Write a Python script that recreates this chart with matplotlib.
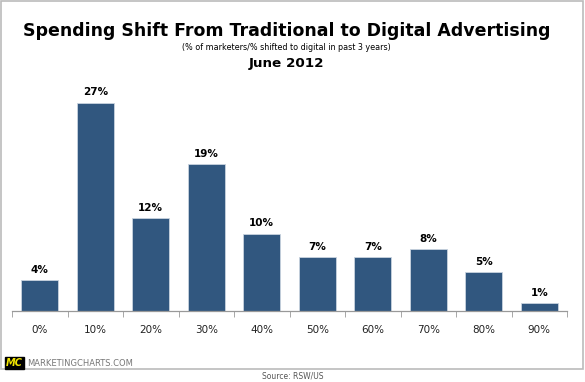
import numpy as np
import matplotlib.pyplot as plt
from matplotlib.patches import Rectangle

cats = ["0%", "10%", "20%", "30%", "40%", "50%", "60%", "70%", "80%", "90%"]
vals = [4, 27, 12, 19, 10, 7, 7, 8, 5, 1]

barcol = "#31577f"

fig = plt.figure(figsize=(5.85, 3.82), dpi=100)
W, H = 585.0, 382.0

# frame round the chart
fig.patches.append(Rectangle((1/W, 1 - 369/H), 582/W, 368/H, transform=fig.transFigure,
                             fill=False, edgecolor="#bbbbbb", lw=1.2))

ax = fig.add_axes([12/W, 1 - 311/H, 555/W, 231/H])
x = np.arange(len(cats))
ax.bar(x, vals, width=0.66, color=barcol, edgecolor="#c9d3df", linewidth=0.6, zorder=2)
for xi, v in zip(x, vals):
    ax.text(xi, v + 0.7, "%d%%" % v, ha="center", va="bottom", fontsize=7.5,
            fontweight="bold", color="black")

ax.set_xlim(-0.5, len(cats) - 0.5)
ax.set_ylim(0, 231/7.72)
ax.set_xticks(x)
ax.set_xticklabels(cats, fontsize=7.5, color="#222222")
ax.set_xticks(np.arange(len(cats) + 1) - 0.5, minor=True)
ax.tick_params(axis="x", which="major", length=0, pad=10)
ax.tick_params(axis="x", which="minor", length=4, color="#999999", direction="out")
ax.set_yticks([])
for s in ["top", "right", "left"]:
    ax.spines[s].set_visible(False)
ax.spines["bottom"].set_color("#999999")
ax.spines["bottom"].set_linewidth(0.9)

fig.text(0.49, 1 - 31/H, "Spending Shift From Traditional to Digital Advertising",
         ha="center", va="center", fontsize=12.5, fontweight="bold")
fig.text(0.49, 1 - 48/H, "(% of marketers/% shifted to digital in past 3 years)",
         ha="center", va="center", fontsize=5.8)
fig.text(0.49, 1 - 63/H, "June 2012", ha="center", va="center", fontsize=9.7,
         fontweight="bold")

# logo and source
fig.text(6/W, 1 - 363/H, "MC", ha="left", va="center", fontsize=7, fontweight="bold",
         fontstyle="italic", color="#f2e600",
         bbox=dict(boxstyle="square,pad=0.15", fc="black", ec="black"))
fig.text(27/W, 1 - 363/H, "MARKETINGCHARTS.COM", ha="left", va="center", fontsize=6,
         color="#777777")
fig.text(0.5, 1 - 376/H, "Source: RSW/US", ha="center", va="center", fontsize=5.5,
         color="#555555")

fig.savefig("out.png", dpi=100)
